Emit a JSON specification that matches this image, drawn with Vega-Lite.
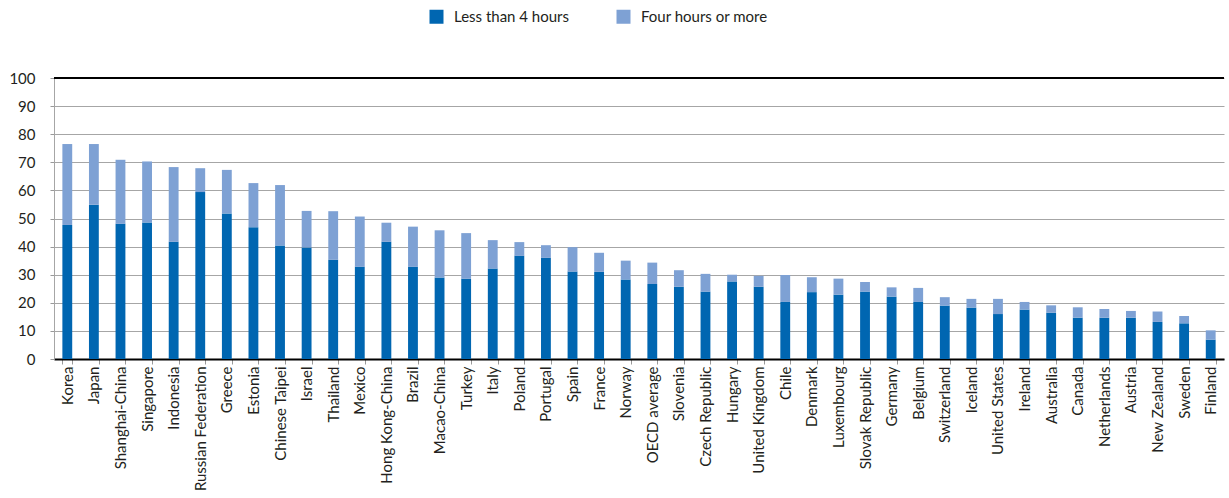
{
  "$schema": "https://vega.github.io/schema/vega-lite/v6.json",
  "width": 1170,
  "height": 281,
  "autosize": {"type": "none"},
  "padding": {"left": 54, "top": 78, "right": 5, "bottom": 139},
  "background": "white",
  "config": {
    "font": "Lato",
    "view": {"stroke": null}
  },
  "data": {
    "values": [
      {"country": "Korea", "series": "Less than 4 hours", "o": 1, "value": 47.7},
      {"country": "Korea", "series": "Four hours or more", "o": 2, "value": 28.8},
      {"country": "Japan", "series": "Less than 4 hours", "o": 1, "value": 54.9},
      {"country": "Japan", "series": "Four hours or more", "o": 2, "value": 21.6},
      {"country": "Shanghai-China", "series": "Less than 4 hours", "o": 1, "value": 48.1},
      {"country": "Shanghai-China", "series": "Four hours or more", "o": 2, "value": 22.8},
      {"country": "Singapore", "series": "Less than 4 hours", "o": 1, "value": 48.6},
      {"country": "Singapore", "series": "Four hours or more", "o": 2, "value": 21.7},
      {"country": "Indonesia", "series": "Less than 4 hours", "o": 1, "value": 41.7},
      {"country": "Indonesia", "series": "Four hours or more", "o": 2, "value": 26.6},
      {"country": "Russian Federation", "series": "Less than 4 hours", "o": 1, "value": 59.4},
      {"country": "Russian Federation", "series": "Four hours or more", "o": 2, "value": 8.5},
      {"country": "Greece", "series": "Less than 4 hours", "o": 1, "value": 51.8},
      {"country": "Greece", "series": "Four hours or more", "o": 2, "value": 15.5},
      {"country": "Estonia", "series": "Less than 4 hours", "o": 1, "value": 46.9},
      {"country": "Estonia", "series": "Four hours or more", "o": 2, "value": 15.7},
      {"country": "Chinese Taipei", "series": "Less than 4 hours", "o": 1, "value": 40.4},
      {"country": "Chinese Taipei", "series": "Four hours or more", "o": 2, "value": 21.5},
      {"country": "Israel", "series": "Less than 4 hours", "o": 1, "value": 39.7},
      {"country": "Israel", "series": "Four hours or more", "o": 2, "value": 13.0},
      {"country": "Thailand", "series": "Less than 4 hours", "o": 1, "value": 35.3},
      {"country": "Thailand", "series": "Four hours or more", "o": 2, "value": 17.3},
      {"country": "Mexico", "series": "Less than 4 hours", "o": 1, "value": 32.8},
      {"country": "Mexico", "series": "Four hours or more", "o": 2, "value": 17.9},
      {"country": "Hong Kong-China", "series": "Less than 4 hours", "o": 1, "value": 41.7},
      {"country": "Hong Kong-China", "series": "Four hours or more", "o": 2, "value": 6.8},
      {"country": "Brazil", "series": "Less than 4 hours", "o": 1, "value": 32.8},
      {"country": "Brazil", "series": "Four hours or more", "o": 2, "value": 14.3},
      {"country": "Macao-China", "series": "Less than 4 hours", "o": 1, "value": 29.0},
      {"country": "Macao-China", "series": "Four hours or more", "o": 2, "value": 16.8},
      {"country": "Turkey", "series": "Less than 4 hours", "o": 1, "value": 28.6},
      {"country": "Turkey", "series": "Four hours or more", "o": 2, "value": 16.2},
      {"country": "Italy", "series": "Less than 4 hours", "o": 1, "value": 32.2},
      {"country": "Italy", "series": "Four hours or more", "o": 2, "value": 10.1},
      {"country": "Poland", "series": "Less than 4 hours", "o": 1, "value": 36.7},
      {"country": "Poland", "series": "Four hours or more", "o": 2, "value": 4.9},
      {"country": "Portugal", "series": "Less than 4 hours", "o": 1, "value": 36.0},
      {"country": "Portugal", "series": "Four hours or more", "o": 2, "value": 4.5},
      {"country": "Spain", "series": "Less than 4 hours", "o": 1, "value": 31.1},
      {"country": "Spain", "series": "Four hours or more", "o": 2, "value": 8.7},
      {"country": "France", "series": "Less than 4 hours", "o": 1, "value": 31.0},
      {"country": "France", "series": "Four hours or more", "o": 2, "value": 6.8},
      {"country": "Norway", "series": "Less than 4 hours", "o": 1, "value": 28.3},
      {"country": "Norway", "series": "Four hours or more", "o": 2, "value": 6.7},
      {"country": "OECD average", "series": "Less than 4 hours", "o": 1, "value": 26.7},
      {"country": "OECD average", "series": "Four hours or more", "o": 2, "value": 7.6},
      {"country": "Slovenia", "series": "Less than 4 hours", "o": 1, "value": 25.7},
      {"country": "Slovenia", "series": "Four hours or more", "o": 2, "value": 5.9},
      {"country": "Czech Republic", "series": "Less than 4 hours", "o": 1, "value": 24.0},
      {"country": "Czech Republic", "series": "Four hours or more", "o": 2, "value": 6.3},
      {"country": "Hungary", "series": "Less than 4 hours", "o": 1, "value": 27.6},
      {"country": "Hungary", "series": "Four hours or more", "o": 2, "value": 2.4},
      {"country": "United Kingdom", "series": "Less than 4 hours", "o": 1, "value": 25.7},
      {"country": "United Kingdom", "series": "Four hours or more", "o": 2, "value": 3.9},
      {"country": "Chile", "series": "Less than 4 hours", "o": 1, "value": 20.3},
      {"country": "Chile", "series": "Four hours or more", "o": 2, "value": 9.6},
      {"country": "Denmark", "series": "Less than 4 hours", "o": 1, "value": 23.8},
      {"country": "Denmark", "series": "Four hours or more", "o": 2, "value": 5.3},
      {"country": "Luxembourg", "series": "Less than 4 hours", "o": 1, "value": 22.9},
      {"country": "Luxembourg", "series": "Four hours or more", "o": 2, "value": 5.7},
      {"country": "Slovak Republic", "series": "Less than 4 hours", "o": 1, "value": 24.0},
      {"country": "Slovak Republic", "series": "Four hours or more", "o": 2, "value": 3.4},
      {"country": "Germany", "series": "Less than 4 hours", "o": 1, "value": 22.2},
      {"country": "Germany", "series": "Four hours or more", "o": 2, "value": 3.3},
      {"country": "Belgium", "series": "Less than 4 hours", "o": 1, "value": 20.3},
      {"country": "Belgium", "series": "Four hours or more", "o": 2, "value": 5.0},
      {"country": "Switzerland", "series": "Less than 4 hours", "o": 1, "value": 19.0},
      {"country": "Switzerland", "series": "Four hours or more", "o": 2, "value": 3.0},
      {"country": "Iceland", "series": "Less than 4 hours", "o": 1, "value": 18.3},
      {"country": "Iceland", "series": "Four hours or more", "o": 2, "value": 3.1},
      {"country": "United States", "series": "Less than 4 hours", "o": 1, "value": 16.0},
      {"country": "United States", "series": "Four hours or more", "o": 2, "value": 5.4},
      {"country": "Ireland", "series": "Less than 4 hours", "o": 1, "value": 17.6},
      {"country": "Ireland", "series": "Four hours or more", "o": 2, "value": 2.7},
      {"country": "Australia", "series": "Less than 4 hours", "o": 1, "value": 16.5},
      {"country": "Australia", "series": "Four hours or more", "o": 2, "value": 2.6},
      {"country": "Canada", "series": "Less than 4 hours", "o": 1, "value": 14.7},
      {"country": "Canada", "series": "Four hours or more", "o": 2, "value": 3.7},
      {"country": "Netherlands", "series": "Less than 4 hours", "o": 1, "value": 14.7},
      {"country": "Netherlands", "series": "Four hours or more", "o": 2, "value": 3.1},
      {"country": "Austria", "series": "Less than 4 hours", "o": 1, "value": 14.7},
      {"country": "Austria", "series": "Four hours or more", "o": 2, "value": 2.4},
      {"country": "New Zealand", "series": "Less than 4 hours", "o": 1, "value": 13.2},
      {"country": "New Zealand", "series": "Four hours or more", "o": 2, "value": 3.7},
      {"country": "Sweden", "series": "Less than 4 hours", "o": 1, "value": 12.7},
      {"country": "Sweden", "series": "Four hours or more", "o": 2, "value": 2.6},
      {"country": "Finland", "series": "Less than 4 hours", "o": 1, "value": 6.9},
      {"country": "Finland", "series": "Four hours or more", "o": 2, "value": 3.3}
    ]
  },
  "layer": [
    {
      "mark": {"type": "bar"},
      "encoding": {
        "x": {
          "field": "country",
          "type": "nominal",
          "sort": null,
          "scale": {"paddingInner": 0.63},
          "axis": {
            "title": null,
            "labelAngle": -90,
            "labelAlign": "right",
            "labelBaseline": "middle",
            "labelFontSize": 15,
            "labelColor": "#231f20",
            "labelPadding": 2,
            "labelOverlap": false,
            "tickBand": "extent",
            "tickColor": "#999999",
            "tickSize": 5,
            "domainColor": "#000000",
            "domainWidth": 2
          }
        },
        "y": {
          "field": "value",
          "type": "quantitative",
          "stack": "zero",
          "scale": {"domain": [0, 100], "nice": false},
          "axis": {
            "title": null,
            "values": [0, 10, 20, 30, 40, 50, 60, 70, 80, 90, 100],
            "labelOverlap": false,
            "labelFontSize": 15,
            "labelColor": "#231f20",
            "labelPadding": 15,
            "tickColor": "#999999",
            "tickSize": 4,
            "gridColor": "#a6a6a6",
            "gridWidth": 1,
            "domainColor": "#a6a6a6",
            "domainWidth": 1
          }
        },
        "order": {"field": "o", "type": "quantitative"},
        "color": {
          "field": "series",
          "type": "nominal",
          "scale": {
            "domain": ["Less than 4 hours", "Four hours or more"],
            "range": ["#0066b1", "#7ea1d4"]
          },
          "legend": {
            "title": null,
            "orient": "none",
            "legendX": 375,
            "legendY": -69,
            "direction": "horizontal",
            "symbolType": "square",
            "symbolSize": 196,
            "symbolStrokeWidth": 0,
            "labelFontSize": 15,
            "labelColor": "#231f20",
            "labelOffset": 10,
            "columnPadding": 46
          }
        }
      }
    },
    {
      "mark": {"type": "rule", "color": "#000000", "strokeWidth": 1.5},
      "encoding": {
        "y": {
          "datum": 100,
          "type": "quantitative",
          "axis": {
            "title": null,
            "values": [0, 10, 20, 30, 40, 50, 60, 70, 80, 90, 100],
            "labelOverlap": false,
            "labelFontSize": 15,
            "labelColor": "#231f20",
            "labelPadding": 15,
            "tickColor": "#999999",
            "tickSize": 4,
            "gridColor": "#a6a6a6",
            "gridWidth": 1,
            "domainColor": "#a6a6a6",
            "domainWidth": 1
          }
        }
      }
    }
  ]
}
